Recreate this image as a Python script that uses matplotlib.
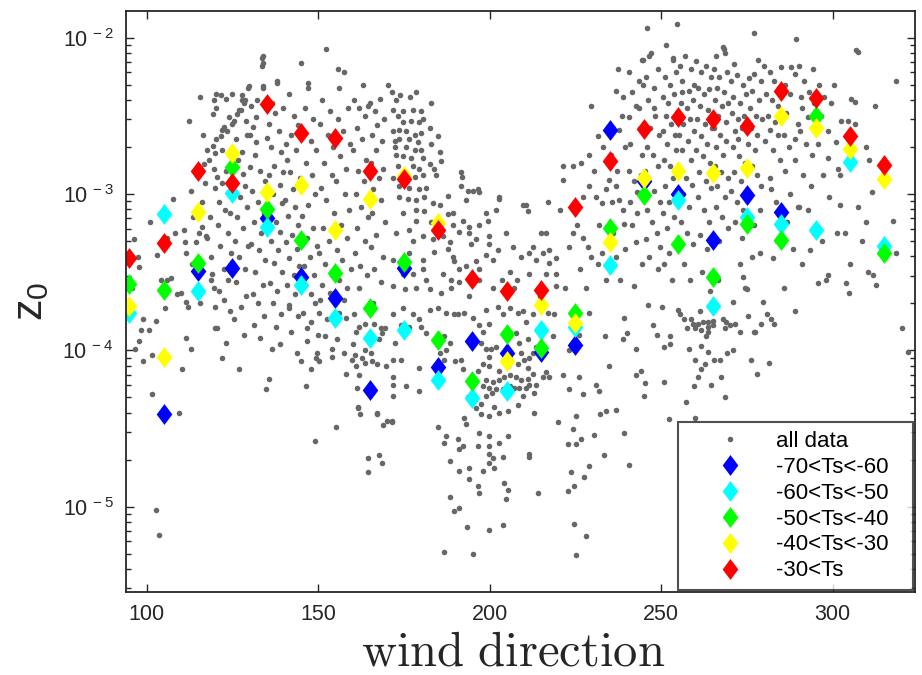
import numpy as np
import matplotlib
matplotlib.use('Agg')
import matplotlib.pyplot as plt
from matplotlib.ticker import FuncFormatter, LogLocator, NullFormatter, FixedLocator

plt.rcParams['font.family'] = ['Liberation Sans', 'DejaVu Sans']
plt.rcParams['mathtext.default'] = 'regular'

# bin centres of wind direction for the Ts classes
wd_bins = [95, 105, 115, 125, 135, 145, 155, 165, 175, 185, 195, 205,
           215, 225, 235, 245, 255, 265, 275, 285, 295, 305, 315]
nan = np.nan
z0_m70 = [nan, 3.93e-5, 3.2e-4, 3.37e-4, 7.0e-4, 2.95e-4, 2.17e-4, 5.6e-5, 3.37e-4, 7.85e-5, 1.15e-4, 9.6e-5,
          9.8e-5, 1.08e-4, 2.56e-3, 1.21e-3, 1.0e-3, 5.1e-4, 9.9e-4, 7.7e-4, nan, nan, nan]
z0_m60 = [1.74e-4, 7.45e-4, 2.4e-4, 1.02e-3, 6.15e-4, 2.62e-4, 1.61e-4, 1.2e-4, 1.35e-4, 6.5e-5, 4.98e-5, 5.5e-5,
          1.35e-4, 1.41e-4, 3.5e-4, nan, 9.2e-4, 1.92e-4, 7.1e-4, 6.4e-4, 5.88e-4, 1.6e-3, 4.66e-4]
z0_m50 = [2.66e-4, 2.44e-4, 3.6e-4, 1.49e-3, 8.0e-4, 5.1e-4, 3.13e-4, 1.87e-4, 3.7e-4, 1.17e-4, 6.4e-5, 1.27e-4,
          1.04e-4, 1.74e-4, 6.06e-4, 9.86e-4, 4.8e-4, 2.95e-4, 6.4e-4, 5.1e-4, 3.16e-3, nan, 4.2e-4]
z0_m40 = [1.92e-4, 9.1e-5, 7.7e-4, 1.82e-3, 1.03e-3, 1.14e-3, 5.88e-4, 9.3e-4, 1.3e-3, 6.5e-4, nan, 8.5e-5,
          1.95e-4, 1.5e-4, 4.93e-4, 1.27e-3, 1.4e-3, 1.36e-3, 1.47e-3, 3.16e-3, 2.64e-3, 1.94e-3, 1.25e-3]
z0_m30 = [3.9e-4, 4.87e-4, 1.4e-3, 1.18e-3, 3.76e-3, 2.45e-3, 2.28e-3, 1.4e-3, 1.25e-3, 5.9e-4, 2.86e-4, 2.4e-4,
          2.43e-4, 8.26e-4, 1.62e-3, 2.6e-3, 3.1e-3, 3.0e-3, 2.72e-3, 4.57e-3, 4.1e-3, 2.35e-3, 1.53e-3]

class_labels = ['-70<Ts<-60', '-60<Ts<-50', '-50<Ts<-40', '-40<Ts<-30', '-30<Ts']
class_colors = ['#0000ff', '#00ffff', '#00ff00', '#ffff00', '#ff0000']

# all data: (wind direction, log10 z0), read column by column
all_data_pts = [
    (95.6, -3.60), (96.2, -3.29), (97.5, -3.40), (97.7, -3.47), (99.0, -3.80), (98.5, -3.87), (97.8, -3.94),
    (96.6, -3.99), (98.8, -4.07),
    (101.0, -3.18), (103.0, -3.39), (105.4, -3.73), (102.8, -3.81), (100.7, -3.87), (101.7, -4.03), (101.5, -4.28),
    (102.6, -5.02), (103.6, -5.18), (104.2, -3.55),
    (107.6, -3.03), (106.0, -3.55), (107.0, -3.54), (109.9, -3.63), (109.0, -3.64), (109.4, -4.40), (110.4, -4.12),
    (108.3, -3.25), (105.8, -3.28),
    (111.0, -3.23), (111.2, -3.31), (111.6, -3.38), (112.5, -2.53), (112.8, -2.98), (111.4, -3.92), (112.8, -3.99),
    (114.5, -3.31), (113.2, -3.45), (114.0, -3.62), (112.0, -3.72), (111.4, -3.69), (113.6, -3.15), (114.6, -2.88),
    (115.5, -2.38), (117.7, -2.72), (116.7, -2.81), (118.2, -2.78), (119.3, -2.69), (119.6, -2.40), (119.3, -2.49),
    (119.9, -2.74), (119.6, -2.84), (119.9, -2.96), (115.2, -3.25), (117.5, -3.28), (115.5, -3.70), (119.8, -3.72),
    (116.2, -3.21), (117.2, -3.27), (118.7, -3.40), (119.1, -3.51), (118.7, -3.55), (119.6, -3.60), (117.0, -2.93),
    (116.0, -3.05), (118.5, -3.15), (119.9, -3.86), (116.5, -2.62),
    (120.1, -2.36), (121.6, -2.37), (123.0, -2.39), (120.3, -2.45), (122.5, -2.57), (122.1, -2.59), (123.5, -2.60),
    (121.6, -2.63), (120.1, -2.65), (120.6, -2.89), (122.1, -2.93), (124.0, -2.51), (122.0, -2.72), (124.5, -2.80),
    (123.0, -2.85), (121.0, -3.05), (122.8, -3.10), (124.2, -3.12), (120.8, -3.20), (123.6, -3.25), (121.5, -3.33),
    (124.6, -3.38), (122.7, -3.48), (120.4, -3.86), (122.7, -3.68), (123.8, -3.55), (121.2, -3.62), (124.3, -3.75),
    (123.2, -3.95), (121.9, -4.05), (124.8, -2.98),
    (125.0, -2.36), (127.9, -2.37), (128.4, -2.42), (127.4, -2.46), (126.4, -2.49), (125.5, -2.53), (125.0, -2.55),
    (127.7, -2.40), (129.5, -2.32), (128.6, -2.40), (127.0, -2.46), (129.0, -2.53), (127.7, -2.73), (130.0, -2.83),
    (128.0, -2.87), (129.8, -2.31), (126.0, -2.65), (128.8, -2.95), (125.6, -2.92), (127.2, -3.02), (129.2, -3.08),
    (126.3, -3.15), (128.1, -3.22), (125.9, -3.30), (129.5, -3.33), (127.0, -3.40), (128.6, -3.48), (126.2, -3.56),
    (129.0, -3.65), (127.5, -3.72), (125.4, -3.80), (128.3, -3.90), (126.8, -4.12), (129.4, -2.62), (126.7, -2.78),
    (131.0, -2.57), (132.0, -2.67), (134.0, -2.12), (134.0, -2.16), (134.0, -2.32), (132.0, -2.51), (133.7, -2.13),
    (133.7, -2.18), (133.9, -2.31), (130.5, -2.44), (135.0, -2.64), (131.5, -2.75), (133.0, -2.85), (134.5, -2.92),
    (130.8, -2.98), (132.5, -3.05), (134.2, -3.12), (131.2, -3.18), (133.4, -3.25), (130.4, -3.32), (132.8, -3.36),
    (134.6, -3.42), (131.7, -3.50), (133.8, -3.58), (130.9, -3.64), (132.4, -3.70), (134.1, -3.78), (131.3, -3.84),
    (133.1, -3.92), (134.8, -4.25), (132.2, -2.40), (130.2, -2.62),
    (138.0, -2.28), (138.1, -2.29), (139.7, -2.45), (136.5, -2.42), (137.5, -2.48), (135.6, -2.55), (138.6, -2.60),
    (136.4, -2.70), (139.2, -2.73), (137.2, -2.82), (135.8, -2.88), (138.8, -2.94), (136.9, -3.00), (139.5, -3.06),
    (135.4, -3.12), (137.8, -3.18), (139.0, -3.24), (136.2, -3.30), (138.3, -3.36), (137.0, -3.44), (139.6, -3.50),
    (135.9, -3.57), (138.1, -3.62), (136.8, -3.70), (139.3, -3.77), (137.6, -3.85), (138.9, -3.96), (135.6, -4.18),
    (139.8, -2.86), (136.6, -3.99),
    (140.8, -2.78), (145.0, -2.16), (141.5, -2.36), (143.0, -2.50), (144.2, -2.56), (142.0, -2.62), (140.5, -2.68),
    (143.6, -2.72), (141.8, -2.86), (144.6, -2.90), (142.7, -2.97), (140.3, -3.04), (143.3, -3.08), (141.2, -3.14),
    (144.1, -3.20), (142.4, -3.26), (140.7, -3.31), (143.8, -3.35), (141.6, -3.41), (144.5, -3.46), (142.9, -3.52),
    (140.9, -3.58), (143.2, -3.64), (141.4, -3.71), (144.0, -3.78), (142.2, -3.88), (143.7, -4.02), (144.9, -4.07),
    (141.5, -3.73),
    (147.0, -2.29), (147.0, -2.32), (146.2, -2.45), (148.6, -2.52), (145.6, -2.60), (147.9, -2.66), (149.3, -2.72),
    (146.4, -2.80), (148.2, -2.88), (145.8, -2.95), (149.0, -3.00), (147.0, -3.07), (145.3, -3.14), (148.4, -3.22),
    (146.7, -3.28), (149.6, -3.33), (147.5, -3.40), (145.9, -3.46), (148.9, -3.52), (146.3, -3.58), (147.8, -3.64),
    (149.2, -3.70), (145.5, -3.76), (148.0, -3.82), (146.9, -3.94), (149.5, -4.05), (146.5, -4.23), (146.8, -3.86),
    (152.2, -2.07), (151.0, -2.40), (153.4, -2.47), (150.5, -2.55), (152.8, -2.62), (154.3, -2.70), (151.6, -2.80),
    (153.9, -2.88), (150.8, -2.96), (152.4, -3.04), (154.6, -3.12), (151.3, -3.22), (153.1, -3.30), (150.2, -3.38),
    (152.0, -3.45), (154.0, -3.52), (151.0, -3.58), (153.4, -3.63), (150.6, -3.68), (152.6, -3.80), (150.2, -3.76),
    (150.0, -3.90), (152.0, -3.91), (153.9, -3.99), (153.9, -4.04), (150.2, -4.07), (149.7, -4.02), (147.8, -4.12),
    (149.2, -4.58), (155.3, -4.49),
    (156.0, -2.32), (155.8, -2.20), (157.5, -2.22), (158.8, -2.45), (155.7, -2.52), (157.2, -2.60), (159.4, -2.68),
    (156.3, -2.76), (158.1, -2.84), (155.2, -2.92), (157.7, -3.00), (159.0, -3.10), (156.6, -3.20), (158.4, -3.28),
    (155.4, -3.36), (157.0, -3.42), (159.6, -3.48), (156.1, -3.55), (158.5, -3.60), (156.0, -3.76), (158.0, -3.79),
    (155.5, -3.93), (157.4, -4.02), (158.2, -4.15), (159.9, -4.06), (157.6, -3.68),
    (160.5, -2.40), (162.0, -2.45), (163.0, -2.30), (163.8, -2.50), (161.2, -2.58), (164.5, -2.44), (162.8, -2.65),
    (160.3, -2.72), (164.0, -2.78), (161.7, -2.85), (163.3, -2.92), (160.9, -3.00), (162.5, -3.08), (164.6, -3.15),
    (161.4, -3.22), (163.6, -3.30), (160.7, -3.38), (162.2, -3.46), (164.2, -3.52), (161.9, -3.60), (160.6, -3.77),
    (161.9, -3.85), (163.8, -3.83), (160.9, -3.88), (160.1, -3.96), (160.7, -4.03), (160.9, -4.10), (161.2, -4.24),
    (161.7, -4.36), (162.3, -4.41), (161.9, -4.16), (163.8, -4.08), (162.8, -4.05), (163.8, -4.00), (161.5, -4.37),
    (164.5, -4.69), (164.5, -4.78),
    (165.2, -2.42), (166.5, -2.47), (168.0, -2.39), (169.3, -2.52), (167.2, -2.56), (165.8, -2.62), (168.7, -2.66),
    (166.9, -2.72), (165.4, -2.80), (169.0, -2.84), (167.6, -2.90), (166.1, -2.97), (168.4, -3.04), (165.7, -3.12),
    (169.6, -3.18), (167.0, -3.26), (165.3, -3.34), (168.9, -3.40), (166.4, -3.48), (168.2, -3.56), (166.2, -3.83),
    (168.2, -3.86), (168.7, -3.89), (167.7, -3.93), (169.6, -3.86), (165.3, -4.02), (165.7, -4.07), (167.2, -4.09),
    (169.9, -4.10), (167.2, -4.40), (168.9, -4.48), (167.3, -4.41), (167.7, -4.67), (168.5, -4.72), (166.0, -3.70),
    (170.5, -2.30), (171.4, -2.35), (172.8, -2.40), (174.0, -2.37), (171.8, -2.46), (174.7, -2.47), (173.3, -2.50),
    (174.7, -2.54), (171.8, -2.60), (173.7, -2.59), (172.4, -2.66), (173.7, -2.65), (172.3, -2.70), (174.7, -2.76),
    (172.7, -2.75), (173.2, -2.82), (171.8, -2.90), (173.7, -2.95), (173.7, -3.02), (174.7, -3.12), (172.7, -3.25),
    (171.8, -3.42), (174.7, -3.51), (171.8, -3.59), (175.2, -3.61), (171.8, -3.77), (174.7, -3.73), (174.2, -3.84),
    (171.8, -4.06), (171.7, -4.17), (171.7, -4.22), (171.8, -4.29), (171.6, -4.45), (174.2, -4.06), (170.1, -4.45),
    (171.4, -4.46), (172.5, -3.95),
    (176.8, -2.38), (178.6, -2.35), (177.6, -2.46), (180.0, -2.47), (179.5, -2.54), (177.1, -2.53), (175.7, -2.60),
    (178.1, -2.62), (176.6, -2.65), (179.1, -2.67), (175.7, -2.70), (178.1, -2.72), (177.1, -2.77), (177.6, -2.82),
    (179.5, -2.84), (178.1, -2.89), (176.6, -2.96), (179.5, -2.97), (176.1, -3.03), (178.6, -3.04), (178.6, -3.10),
    (178.6, -3.17), (176.6, -3.23), (176.6, -3.38), (177.6, -3.51), (178.6, -3.60), (177.6, -3.77), (176.6, -3.85),
    (179.5, -3.80), (180.0, -3.85), (175.7, -4.23), (179.5, -4.26), (179.5, -4.11), (177.8, -3.30),
    (182.9, -2.42), (180.5, -2.52), (180.0, -2.61), (182.5, -2.58), (184.9, -2.63), (180.0, -2.72), (180.5, -2.77),
    (182.5, -2.81), (183.9, -2.84), (180.5, -2.88), (184.4, -2.88), (181.5, -2.96), (181.0, -3.02), (183.4, -3.06),
    (181.0, -3.11), (183.0, -3.18), (180.5, -3.27), (183.4, -3.29), (183.9, -3.37), (180.5, -3.42), (180.5, -3.48),
    (181.5, -3.55), (182.5, -3.61), (182.5, -3.74), (184.9, -3.73), (181.5, -3.89), (184.9, -4.49), (183.0, -2.68),
    (185.4, -2.73), (185.9, -2.79), (185.4, -3.07), (187.8, -3.01), (189.2, -3.12), (187.8, -3.13), (189.2, -3.20),
    (186.3, -3.27), (188.3, -3.31), (187.8, -3.35), (189.2, -3.40), (189.7, -3.43), (186.3, -3.51), (188.8, -3.55),
    (188.8, -3.60), (185.8, -3.63), (187.3, -3.76), (186.8, -3.91), (188.3, -3.95), (187.3, -4.00), (185.4, -4.02),
    (186.8, -4.06), (190.0, -4.07), (187.3, -4.55), (186.8, -4.59), (188.3, -4.71), (188.3, -4.94), (189.7, -5.03),
    (186.8, -5.29), (189.7, -3.77),
    (191.7, -2.86), (191.9, -2.89), (191.7, -2.95), (193.6, -2.98), (193.1, -3.04), (192.2, -3.17), (194.1, -3.21),
    (194.1, -3.25), (191.2, -3.24), (194.6, -3.32), (191.2, -3.48), (193.1, -3.46), (191.2, -3.56), (192.6, -3.76),
    (190.7, -3.77), (191.7, -4.06), (192.2, -4.12), (193.6, -4.30), (192.6, -4.43), (193.1, -4.47), (190.7, -4.57),
    (191.2, -4.63), (192.2, -4.61), (191.2, -4.77), (194.1, -4.75), (194.1, -4.82), (191.2, -5.01), (193.3, -5.13),
    (195.1, -2.98), (194.0, -3.65),
    (196.5, -2.97), (197.0, -3.20), (196.0, -3.29), (196.0, -3.43), (197.0, -3.48), (197.0, -3.55), (199.0, -3.12),
    (199.4, -3.17), (199.9, -3.27), (199.9, -3.32), (199.0, -3.39), (195.1, -3.79), (197.0, -3.84), (199.9, -3.83),
    (198.0, -3.88), (197.5, -3.95), (198.9, -3.99), (199.9, -4.04), (198.0, -4.09), (196.5, -4.13), (199.9, -4.10),
    (198.9, -4.19), (198.0, -4.23), (199.9, -4.24), (198.9, -4.29), (196.0, -4.37), (197.5, -4.34), (197.5, -4.41),
    (199.9, -4.42), (197.0, -4.53), (199.9, -4.55), (196.5, -4.61), (199.9, -4.61), (199.9, -4.66), (198.0, -4.77),
    (199.9, -4.72), (196.5, -4.87), (197.0, -4.91), (195.1, -5.30), (199.9, -5.15), (199.0, -3.74), (197.0, -2.99),
    (202.6, -3.02), (201.9, -3.10), (202.8, -3.03), (202.4, -3.36), (204.8, -3.25), (200.9, -3.42), (202.4, -3.72),
    (203.8, -3.77), (201.9, -3.98), (200.4, -3.99), (202.8, -4.13), (204.3, -4.17), (200.9, -4.20), (202.8, -4.19),
    (201.9, -4.25), (203.8, -4.25), (200.7, -4.27), (201.4, -4.36), (202.8, -4.40), (200.9, -4.69), (202.8, -4.59),
    (203.8, -4.68), (201.4, -4.75), (204.3, -4.85), (203.8, -5.12), (201.0, -3.60), (203.5, -3.55), (204.5, -3.88),
    (206.7, -3.34), (209.1, -3.40), (207.2, -3.60), (205.8, -3.73), (208.2, -3.76), (209.6, -3.75), (207.7, -3.89),
    (208.7, -3.95), (209.1, -4.02), (205.3, -4.10), (208.2, -4.09), (205.8, -4.16), (207.7, -4.17), (209.1, -4.19),
    (205.8, -4.23), (207.2, -4.24), (208.7, -4.24), (209.6, -4.29), (205.3, -4.39), (208.2, -4.35), (205.3, -4.55),
    (205.3, -4.89), (204.8, -4.95), (209.6, -3.07), (206.0, -3.50), (208.0, -3.55),
    (210.5, -3.07), (211.1, -3.11), (211.6, -3.38), (212.5, -3.34), (213.5, -3.42), (211.6, -3.51), (212.5, -3.77),
    (210.6, -3.82), (211.1, -3.93), (213.5, -3.98), (212.5, -4.02), (211.6, -4.05), (210.1, -4.06), (211.1, -4.11),
    (212.5, -4.15), (211.1, -4.18), (211.6, -4.22), (213.5, -4.22), (210.6, -4.24), (213.0, -4.27), (213.0, -4.40),
    (211.4, -4.66), (211.6, -4.68), (214.0, -4.91), (214.6, -3.65),
    (215.5, -3.38), (216.4, -3.25), (217.4, -3.36), (217.4, -3.44), (219.3, -3.41), (219.3, -3.51), (216.4, -3.51),
    (219.3, -3.59), (216.9, -3.76), (218.9, -3.77), (218.4, -3.91), (216.4, -4.14), (217.4, -4.17), (215.5, -4.17),
    (219.8, -4.46), (215.0, -3.25), (217.0, -3.05),
    (221.3, -2.82), (224.2, -2.82), (221.3, -2.91), (223.2, -3.34), (224.2, -3.25), (221.3, -4.16), (223.2, -4.00),
    (223.2, -4.25), (224.2, -4.50), (222.7, -4.60), (225.2, -4.60), (223.7, -4.78), (224.7, -4.87), (222.7, -4.90),
    (224.7, -5.11), (222.0, -3.60), (220.5, -3.10),
    (225.6, -3.20), (227.1, -3.28), (228.6, -3.34), (229.5, -3.40), (226.2, -3.48), (226.6, -2.80), (229.1, -2.75),
    (227.1, -3.02), (229.1, -2.95), (229.5, -2.44), (229.1, -3.76), (226.1, -4.17), (227.1, -4.28), (225.2, -4.42),
    (226.6, -4.57), (227.6, -4.81), (229.1, -4.74), (228.1, -5.19), (225.2, -5.31), (228.0, -3.60), (226.0, -3.90),
    (231.0, -3.02), (232.9, -3.06), (233.9, -2.97), (234.9, -2.91), (231.5, -2.63), (232.9, -3.38), (233.7, -3.91),
    (231.0, -4.22), (232.0, -4.26), (234.9, -4.10), (232.2, -4.41), (233.9, -4.39), (230.5, -4.54), (233.4, -4.67),
    (230.5, -2.85), (233.0, -2.70), (232.0, -3.20), (234.0, -3.55), (231.5, -3.45),
    (236.8, -2.34), (238.8, -2.38), (237.8, -2.59), (236.8, -2.95), (237.8, -3.04), (238.8, -3.10), (239.2, -3.19),
    (236.8, -3.40), (239.2, -3.79), (239.9, -3.89), (238.8, -3.93), (236.8, -4.38), (239.1, -4.53), (235.5, -2.75),
    (237.0, -2.85), (238.5, -2.50), (239.5, -2.70), (236.0, -3.25), (238.0, -3.55), (239.5, -3.35), (235.8, -3.05),
    (237.5, -2.20),
    (240.7, -2.22), (244.6, -2.14), (243.6, -2.28), (242.6, -2.44), (240.7, -2.51), (242.6, -3.31), (243.1, -2.99),
    (243.1, -3.12), (242.2, -3.59), (242.6, -3.99), (242.6, -4.16), (244.1, -4.13), (240.7, -4.73), (241.5, -2.35),
    (243.8, -2.58), (241.0, -2.68), (244.5, -2.75), (240.5, -2.85), (242.0, -2.92), (244.0, -2.88), (241.5, -3.20),
    (244.3, -3.45), (240.8, -3.05), (243.5, -2.45), (244.8, -2.30), (244.3, -2.14),
    (245.8, -1.94), (247.0, -2.10), (246.5, -2.12), (245.6, -3.29), (245.1, -4.29), (245.4, -4.21), (246.3, -3.71),
    (247.5, -3.84), (248.9, -3.90), (250.2, -3.72), (250.7, -3.98), (250.7, -4.20), (245.5, -2.25), (246.2, -2.40),
    (247.8, -2.32), (249.0, -2.20), (248.3, -2.50), (246.8, -2.58), (249.5, -2.62), (245.8, -2.70), (247.5, -2.75),
    (249.2, -2.82), (246.3, -2.90), (248.0, -2.98), (249.6, -3.05), (245.9, -3.10), (247.2, -3.18), (248.8, -3.25),
    (246.5, -3.40), (249.0, -3.48), (247.8, -2.45), (245.4, -2.85), (249.6, -3.34),
    (253.4, -2.13), (254.5, -1.91), (253.4, -2.14), (251.0, -2.25), (252.5, -2.30), (254.3, -2.22), (250.6, -2.38),
    (252.0, -2.42), (253.8, -2.36), (251.3, -2.50), (254.6, -2.48), (252.8, -2.55), (250.4, -2.60), (253.9, -2.62),
    (251.7, -2.68), (254.2, -2.72), (250.9, -2.78), (252.6, -2.82), (253.5, -2.90), (251.2, -2.95), (254.8, -2.98),
    (252.2, -3.05), (250.5, -3.12), (253.8, -3.15), (251.8, -3.22), (254.5, -3.30), (252.4, -3.38), (250.8, -3.45),
    (253.2, -3.55), (254.9, -3.74), (252.6, -3.91), (252.5, -3.96), (252.3, -4.44), (251.5, -2.05),
    (255.4, -3.77), (256.8, -3.80), (258.8, -3.80), (259.3, -3.83), (257.5, -3.86), (259.8, -3.86), (258.1, -3.99),
    (259.9, -4.06), (259.6, -4.23), (257.1, -4.33), (259.8, -4.43), (255.5, -2.18), (257.0, -2.12), (258.8, -2.20),
    (256.2, -2.28), (258.0, -2.34), (259.6, -2.30), (255.8, -2.42), (257.4, -2.45), (259.2, -2.40), (256.5, -2.55),
    (258.3, -2.52), (255.3, -2.62), (257.8, -2.66), (259.5, -2.60), (256.1, -2.72), (258.6, -2.78), (255.7, -2.85),
    (257.2, -2.90), (259.0, -2.94), (256.4, -3.00), (258.2, -3.08), (255.9, -3.18), (257.6, -3.25), (259.4, -3.32),
    (256.8, -3.45), (258.5, -3.55), (256.0, -2.35),
    (260.2, -2.15), (261.5, -2.22), (263.0, -2.18), (264.5, -2.25), (260.8, -2.32), (262.4, -2.36), (264.0, -2.33),
    (261.2, -2.44), (263.6, -2.46), (260.5, -2.52), (262.8, -2.55), (264.7, -2.58), (261.7, -2.63), (263.3, -2.68),
    (260.3, -2.72), (262.1, -2.76), (264.2, -2.80), (261.0, -2.86), (263.0, -2.92), (264.6, -2.96), (260.7, -3.02),
    (262.5, -3.10), (264.0, -3.18), (261.4, -3.26), (263.4, -3.35), (260.7, -3.83), (262.2, -3.82), (263.6, -3.82),
    (263.6, -3.85), (263.6, -3.88), (263.2, -3.91), (261.7, -3.87), (261.2, -3.75), (261.7, -3.97), (263.8, -4.01),
    (262.9, -4.09), (261.5, -4.12), (260.7, -4.17), (264.4, -4.22), (262.0, -3.50), (264.2, -3.62),
    (268.0, -2.06), (268.5, -2.10), (266.1, -2.12), (268.2, -2.07), (265.5, -2.20), (267.0, -2.25), (269.2, -2.22),
    (266.4, -2.32), (268.3, -2.35), (265.8, -2.40), (267.6, -2.44), (269.5, -2.42), (266.7, -2.50), (268.8, -2.54),
    (265.3, -2.58), (267.2, -2.62), (269.0, -2.66), (266.0, -2.70), (268.0, -2.75), (265.6, -2.82), (267.5, -2.86),
    (269.4, -2.90), (266.3, -2.95), (268.5, -3.02), (265.9, -3.08), (267.8, -3.15), (269.6, -3.22), (266.8, -3.30),
    (265.1, -3.81), (265.1, -3.84), (268.0, -3.80), (269.0, -3.82), (268.7, -3.86), (265.4, -4.06), (267.2, -4.06),
    (269.3, -4.02), (267.5, -4.17), (268.7, -4.30), (266.5, -3.55),
    (271.2, -2.17), (270.5, -2.28), (272.2, -2.24), (273.8, -2.30), (271.0, -2.38), (272.9, -2.42), (274.6, -2.36),
    (270.6, -2.48), (272.4, -2.52), (274.2, -2.50), (271.5, -2.60), (272.4, -2.65), (273.6, -2.58), (270.8, -2.70),
    (272.8, -2.76), (274.5, -2.80), (271.3, -2.86), (273.2, -2.92), (270.4, -2.98), (272.0, -3.05), (274.0, -3.10),
    (271.6, -3.18), (273.5, -3.28), (270.0, -3.84), (271.4, -3.83), (272.9, -3.88), (270.8, -4.00), (273.0, -3.45),
    (274.5, -3.60), (273.8, -3.53), (270.9, -3.69),
    (277.0, -1.97), (278.2, -2.14), (277.2, -2.23), (275.5, -2.26), (279.0, -2.28), (276.4, -2.34), (278.4, -2.40),
    (275.8, -2.45), (277.6, -2.50), (279.4, -2.52), (276.2, -2.58), (278.0, -2.62), (275.4, -2.68), (277.3, -2.72),
    (279.2, -2.95), (278.7, -3.10), (276.5, -2.82), (278.0, -2.88), (275.8, -3.00), (277.2, -3.20), (275.3, -3.78),
    (277.2, -3.88), (279.0, -3.83), (279.7, -3.69), (276.1, -4.06), (278.0, -4.15), (276.6, -3.40), (278.7, -3.38),
    (275.0, -3.61), (277.3, -3.88),
    (280.1, -2.18), (281.6, -2.22), (283.0, -2.28), (284.5, -2.32), (280.6, -2.36), (282.4, -2.40), (284.0, -2.44),
    (281.2, -2.50), (283.3, -2.54), (281.6, -2.59), (284.2, -2.62), (280.4, -2.66), (282.6, -2.72), (284.6, -2.78),
    (281.6, -2.90), (281.9, -2.97), (283.5, -3.05), (280.9, -3.77), (282.1, -3.80), (282.8, -3.83), (281.4, -4.08),
    (283.8, -3.30), (285.0, -2.19), (282.5, -3.41),
    (287.9, -2.19), (288.9, -2.23), (289.2, -2.01), (286.0, -2.30), (287.5, -2.36), (289.9, -2.55), (288.9, -2.65),
    (288.9, -2.78), (290.8, -2.38), (286.5, -2.48), (285.7, -2.62), (287.2, -2.70), (286.2, -2.85), (289.8, -3.08),
    (287.6, -3.00), (286.8, -3.18), (288.5, -3.35), (285.9, -3.60), (289.0, -3.75), (290.1, -3.08),
    (290.3, -2.18), (294.2, -2.20), (292.8, -2.51), (293.7, -2.95), (291.5, -2.28), (293.0, -2.35), (291.2, -2.45),
    (294.5, -2.42), (290.6, -2.60), (292.2, -2.68), (294.0, -2.75), (291.4, -2.88), (292.9, -3.10), (294.6, -3.25),
    (291.0, -3.45), (293.3, -3.36),
    (299.6, -2.42), (298.6, -2.60), (298.6, -2.77), (296.0, -2.30), (297.5, -2.38), (296.5, -2.50), (295.8, -2.68),
    (297.2, -2.88), (299.0, -3.02), (296.8, -3.30), (298.0, -3.55), (295.6, -3.57), (298.5, -3.52),
    (306.8, -2.08), (307.3, -2.09), (306.4, -2.41), (304.4, -2.53), (306.4, -2.55), (302.5, -2.53), (301.0, -2.67),
    (301.5, -2.84), (302.0, -2.88), (302.0, -3.07), (307.3, -3.08), (309.7, -2.70), (310.7, -2.78), (300.5, -2.30),
    (303.5, -3.25), (305.0, -3.45), (308.5, -3.30), (301.2, -3.25), (303.8, -3.57), (304.7, -3.63), (305.2, -2.39),
    (309.6, -3.18),
    (312.2, -2.44), (318.4, -2.28), (317.6, -3.17), (318.4, -3.38), (320.2, -3.86), (321.9, -4.01), (310.2, -3.50),
    (311.7, -3.52), (312.6, -3.58), (311.4, -2.99),
]

all_wd = [p[0] for p in all_data_pts]
all_z0 = [10 ** p[1] for p in all_data_pts]

fig = plt.figure(figsize=(9.22, 6.75), dpi=100)
ax = fig.add_axes([0.1367, 0.123, 0.8557, 0.8607])

diamond = [(0, 1), (0.75, 0), (0, -1), (-0.75, 0), (0, 1)]

ax.plot(all_wd, all_z0, ls='none', marker='o', ms=4.0, color='#676767', mec='none', label='all data')
for vals, lab, col in zip([z0_m70, z0_m60, z0_m50, z0_m40, z0_m30], class_labels, class_colors):
    ax.plot(wd_bins, vals, ls='none', marker=diamond, ms=15, color=col, mec='none', label=lab)

ax.set_yscale('log')
ax.set_xlim(94, 324)
ax.set_ylim(2.85e-6, 1.48e-2)

ax.xaxis.set_major_locator(FixedLocator([100, 150, 200, 250, 300]))
ax.yaxis.set_major_locator(LogLocator(base=10, numticks=10))
ax.yaxis.set_minor_locator(LogLocator(base=10, subs=np.arange(2, 10), numticks=20))
ax.yaxis.set_minor_formatter(NullFormatter())
ax.yaxis.set_major_formatter(FuncFormatter(lambda v, p: r'$10^{\,%d}$' % int(round(np.log10(v)))))

axcol = '#262626'
for s in ax.spines.values():
    s.set_linewidth(1.3)
    s.set_color(axcol)
ax.tick_params(which='both', direction='in', top=True, right=True, colors=axcol, width=1.0)
ax.tick_params(which='major', length=6, labelsize=15.5, pad=9)
ax.tick_params(which='minor', length=3.5)

ax.set_xlabel(r'$\mathrm{wind\ direction}$', fontsize=35, math_fontfamily='cm', color=axcol)
ax.xaxis.set_label_coords(0.49, -0.066)
ax.set_ylabel(r'$z_0$', fontsize=31, math_fontfamily='cm', color=axcol)
ax.yaxis.set_label_coords(-0.095, 0.5)

# legend box spans px 678..913 horizontally in the reference
leg = ax.legend(loc='lower left', bbox_to_anchor=(0.6996, 0.003, 0.2978, 0.28), mode='expand',
                fontsize=16, frameon=True, fancybox=False, borderaxespad=0.0,
                handlelength=3.9, handletextpad=0.1, labelspacing=0.22, borderpad=0.4)
leg.get_frame().set_edgecolor(axcol)
leg.get_frame().set_linewidth(1.5)

fig.savefig('out.png', dpi=100)
